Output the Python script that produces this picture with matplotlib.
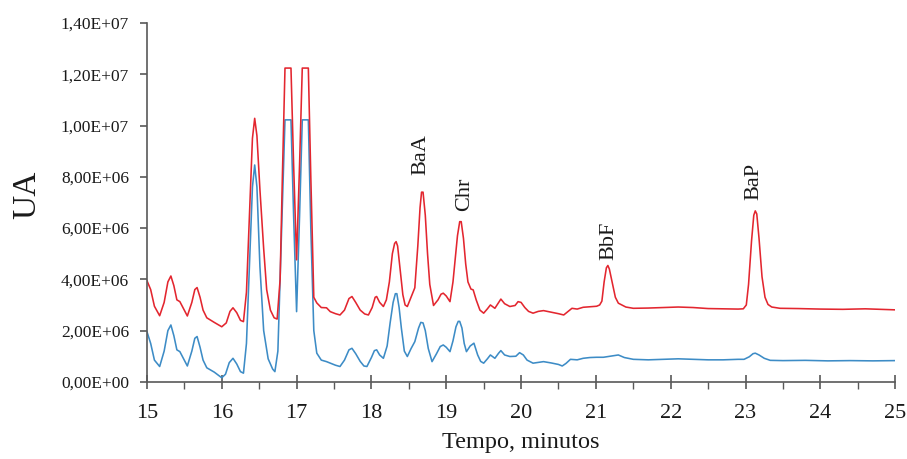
import matplotlib
matplotlib.use("Agg")
import matplotlib.pyplot as plt
from matplotlib.ticker import FuncFormatter, MultipleLocator

# retention time (min) and signal (units of 1e6 UA)
red_t = [15.00, 15.05, 15.10, 15.17, 15.23, 15.28, 15.32, 15.36, 15.40, 15.44, 15.49, 15.54,
         15.60, 15.64, 15.67, 15.71, 15.75, 15.80, 15.90, 16.00, 16.06, 16.11, 16.15, 16.20,
         16.25, 16.29, 16.33, 16.37, 16.41, 16.44, 16.47, 16.51, 16.56, 16.60, 16.65, 16.70,
         16.74, 16.78, 16.81, 16.845, 16.925, 16.96, 17.00, 17.04, 17.076, 17.157, 17.19, 17.23,
         17.27, 17.33, 17.40, 17.45, 17.52, 17.58, 17.64, 17.70, 17.74, 17.79, 17.85, 17.91,
         17.96, 18.01, 18.05, 18.07, 18.11, 18.16, 18.20, 18.24, 18.28, 18.31, 18.33, 18.35,
         18.38, 18.42, 18.45, 18.48, 18.53, 18.58, 18.62, 18.65, 18.67, 18.69, 18.72, 18.75,
         18.78, 18.83, 18.89, 18.93, 18.96, 19.00, 19.05, 19.09, 19.12, 19.15, 19.18, 19.20,
         19.23, 19.26, 19.29, 19.33, 19.36, 19.40, 19.45, 19.50, 19.55, 19.59, 19.65, 19.70,
         19.73, 19.78, 19.85, 19.92, 19.96, 20.00, 20.05, 20.10, 20.16, 20.23, 20.30, 20.40,
         20.50, 20.57, 20.63, 20.68, 20.75, 20.83, 20.92, 21.01, 21.05, 21.08, 21.11, 21.14,
         21.16, 21.18, 21.22, 21.26, 21.30, 21.40, 21.50, 21.70, 21.90, 22.10, 22.30, 22.50,
         22.70, 22.90, 22.97, 23.01, 23.04, 23.08, 23.11, 23.13, 23.15, 23.18, 23.22, 23.26,
         23.30, 23.35, 23.46, 23.70, 24.00, 24.30, 24.60, 24.80, 25.00]
red_v = [3.95, 3.60, 2.95, 2.58, 3.10, 3.90, 4.13, 3.75, 3.20, 3.13, 2.85, 2.57,
         3.10, 3.60, 3.68, 3.30, 2.80, 2.50, 2.32, 2.15, 2.30, 2.75, 2.89, 2.70,
         2.40, 2.35, 3.50, 6.50, 9.50, 10.28, 9.60, 7.50, 5.20, 3.60, 2.80, 2.50,
         2.45, 4.00, 8.00, 12.24, 12.24, 8.50, 4.76, 8.50, 12.24, 12.24, 8.00, 3.30,
         3.08, 2.90, 2.89, 2.74, 2.66, 2.61, 2.80, 3.25, 3.33, 3.10, 2.80, 2.65,
         2.61, 2.90, 3.30, 3.33, 3.10, 2.94, 3.20, 3.90, 5.00, 5.40, 5.47, 5.30,
         4.50, 3.40, 3.00, 2.94, 3.30, 3.67, 5.30, 6.80, 7.40, 7.40, 6.50, 5.00,
         3.80, 2.98, 3.20, 3.42, 3.46, 3.35, 3.13, 3.90, 4.80, 5.70, 6.25, 6.25,
         5.60, 4.60, 3.90, 3.62, 3.59, 3.20, 2.80, 2.68, 2.85, 3.00, 2.87, 3.10,
         3.23, 3.05, 2.94, 2.98, 3.13, 3.10, 2.90, 2.75, 2.68, 2.75, 2.78, 2.72,
         2.66, 2.61, 2.75, 2.87, 2.84, 2.91, 2.93, 2.95, 3.00, 3.15, 3.90, 4.45,
         4.54, 4.40, 3.85, 3.30, 3.07, 2.92, 2.87, 2.88, 2.90, 2.92, 2.90, 2.86,
         2.85, 2.84, 2.85, 3.00, 3.80, 5.50, 6.50, 6.67, 6.55, 5.60, 4.10, 3.30,
         3.02, 2.92, 2.87, 2.86, 2.84, 2.83, 2.85, 2.83, 2.81]

blue_t = [15.00, 15.05, 15.10, 15.17, 15.23, 15.28, 15.32, 15.36, 15.40, 15.44, 15.49, 15.54,
          15.60, 15.64, 15.67, 15.71, 15.75, 15.80, 15.90, 16.00, 16.05, 16.10, 16.15, 16.20,
          16.25, 16.29, 16.33, 16.37, 16.41, 16.44, 16.47, 16.51, 16.56, 16.62, 16.68, 16.71,
          16.75, 16.79, 16.845, 16.925, 16.96, 17.00, 17.04, 17.076, 17.157, 17.19, 17.23, 17.27,
          17.33, 17.40, 17.45, 17.52, 17.58, 17.64, 17.70, 17.74, 17.79, 17.85, 17.90, 17.94,
          18.00, 18.04, 18.07, 18.11, 18.16, 18.21, 18.25, 18.29, 18.32, 18.34, 18.37, 18.40,
          18.44, 18.48, 18.53, 18.58, 18.63, 18.66, 18.69, 18.72, 18.76, 18.81, 18.87, 18.92,
          18.96, 19.00, 19.05, 19.09, 19.13, 19.16, 19.18, 19.21, 19.24, 19.27, 19.32, 19.37,
          19.42, 19.46, 19.50, 19.55, 19.59, 19.65, 19.70, 19.73, 19.78, 19.85, 19.93, 19.98,
          20.03, 20.08, 20.16, 20.23, 20.30, 20.40, 20.50, 20.55, 20.60, 20.66, 20.75, 20.83,
          20.92, 21.01, 21.10, 21.19, 21.25, 21.30, 21.38, 21.50, 21.70, 21.90, 22.10, 22.30,
          22.50, 22.70, 22.90, 22.98, 23.05, 23.10, 23.13, 23.18, 23.25, 23.33, 23.50, 23.80,
          24.10, 24.40, 24.70, 25.00]
blue_v = [1.96, 1.50, 0.85, 0.60, 1.20, 2.00, 2.22, 1.80, 1.25, 1.18, 0.90, 0.62,
          1.20, 1.70, 1.77, 1.35, 0.85, 0.55, 0.38, 0.16, 0.30, 0.75, 0.92, 0.70,
          0.40, 0.34, 1.50, 4.50, 7.60, 8.46, 7.60, 4.50, 2.00, 0.90, 0.50, 0.40,
          1.20, 5.00, 10.22, 10.22, 6.50, 2.74, 6.50, 10.22, 10.22, 6.00, 2.00, 1.12,
          0.85, 0.79, 0.73, 0.65, 0.60, 0.85, 1.25, 1.31, 1.10, 0.80, 0.62, 0.60,
          0.95, 1.22, 1.25, 1.05, 0.92, 1.40, 2.30, 3.10, 3.44, 3.44, 2.90, 2.10,
          1.20, 0.99, 1.30, 1.57, 2.10, 2.32, 2.30, 2.00, 1.30, 0.79, 1.10, 1.38,
          1.44, 1.35, 1.18, 1.60, 2.15, 2.36, 2.36, 2.10, 1.50, 1.18, 1.40, 1.51,
          1.05, 0.80, 0.73, 0.90, 1.05, 0.92, 1.12, 1.22, 1.05, 0.99, 1.00, 1.14,
          1.05, 0.85, 0.73, 0.76, 0.79, 0.74, 0.68, 0.62, 0.72, 0.88, 0.86, 0.92,
          0.95, 0.96, 0.96, 1.00, 1.03, 1.05, 0.95, 0.88, 0.86, 0.88, 0.90, 0.88,
          0.86, 0.86, 0.88, 0.88, 0.98, 1.10, 1.12, 1.05, 0.92, 0.84, 0.83, 0.84,
          0.82, 0.83, 0.82, 0.83]

peak_names = ["BaA", "Chr", "BbF", "BaP"]
peak_t = [18.66, 19.24, 21.17, 23.11]
peak_label_y = [8.85, 7.33, 5.50, 7.80]

red_line = [v * 1e6 for v in red_v]
blue_line = [v * 1e6 for v in blue_v]

plt.rcParams["font.family"] = ["Liberation Serif", "DejaVu Serif"]
axis_grey = "#595959"
ink = "#1a1a1a"

fig = plt.figure(figsize=(9.07, 4.59), dpi=100)
ax = fig.add_axes([0.162, 0.168, 0.825, 0.782])

ax.plot(blue_t, blue_line, color="#3d8cc6", lw=1.15)
ax.plot(red_t, red_line, color="#e3262f", lw=1.15)

for name, t, y in zip(peak_names, peak_t, peak_label_y):
    ax.text(t, y * 1e6, name, rotation=90, ha="center", va="center",
            fontsize=16, color=ink)

ax.set_xlim(15, 25)
ax.set_ylim(0, 1.4e7)
ax.xaxis.set_major_locator(MultipleLocator(1))
ax.xaxis.set_minor_locator(MultipleLocator(0.5))
ax.yaxis.set_major_locator(MultipleLocator(2e6))
ax.yaxis.set_major_formatter(FuncFormatter(lambda v, p: f"{v:.2E}".replace(".", ",")))

for side in ("top", "right"):
    ax.spines[side].set_visible(False)
for side in ("left", "bottom"):
    ax.spines[side].set_color(axis_grey)
    ax.spines[side].set_linewidth(1.2)

ax.tick_params(axis="x", which="major", direction="inout", length=9.5, width=1.2,
               color=axis_grey, labelsize=16, pad=11, labelcolor=ink)
ax.tick_params(axis="x", which="minor", direction="out", length=5, width=1.0, color=axis_grey)
ax.tick_params(axis="y", which="major", direction="out", length=5, width=1.2,
               color=axis_grey, labelsize=12.5, pad=8, labelcolor=ink)

ax.set_xlabel("Tempo, minutos", fontsize=17.5, color=ink, labelpad=7)
ax.set_ylabel("UA", fontsize=24, color=ink)
ax.yaxis.set_label_coords(-0.140, 0.521)

fig.savefig("out.png", dpi=100)
